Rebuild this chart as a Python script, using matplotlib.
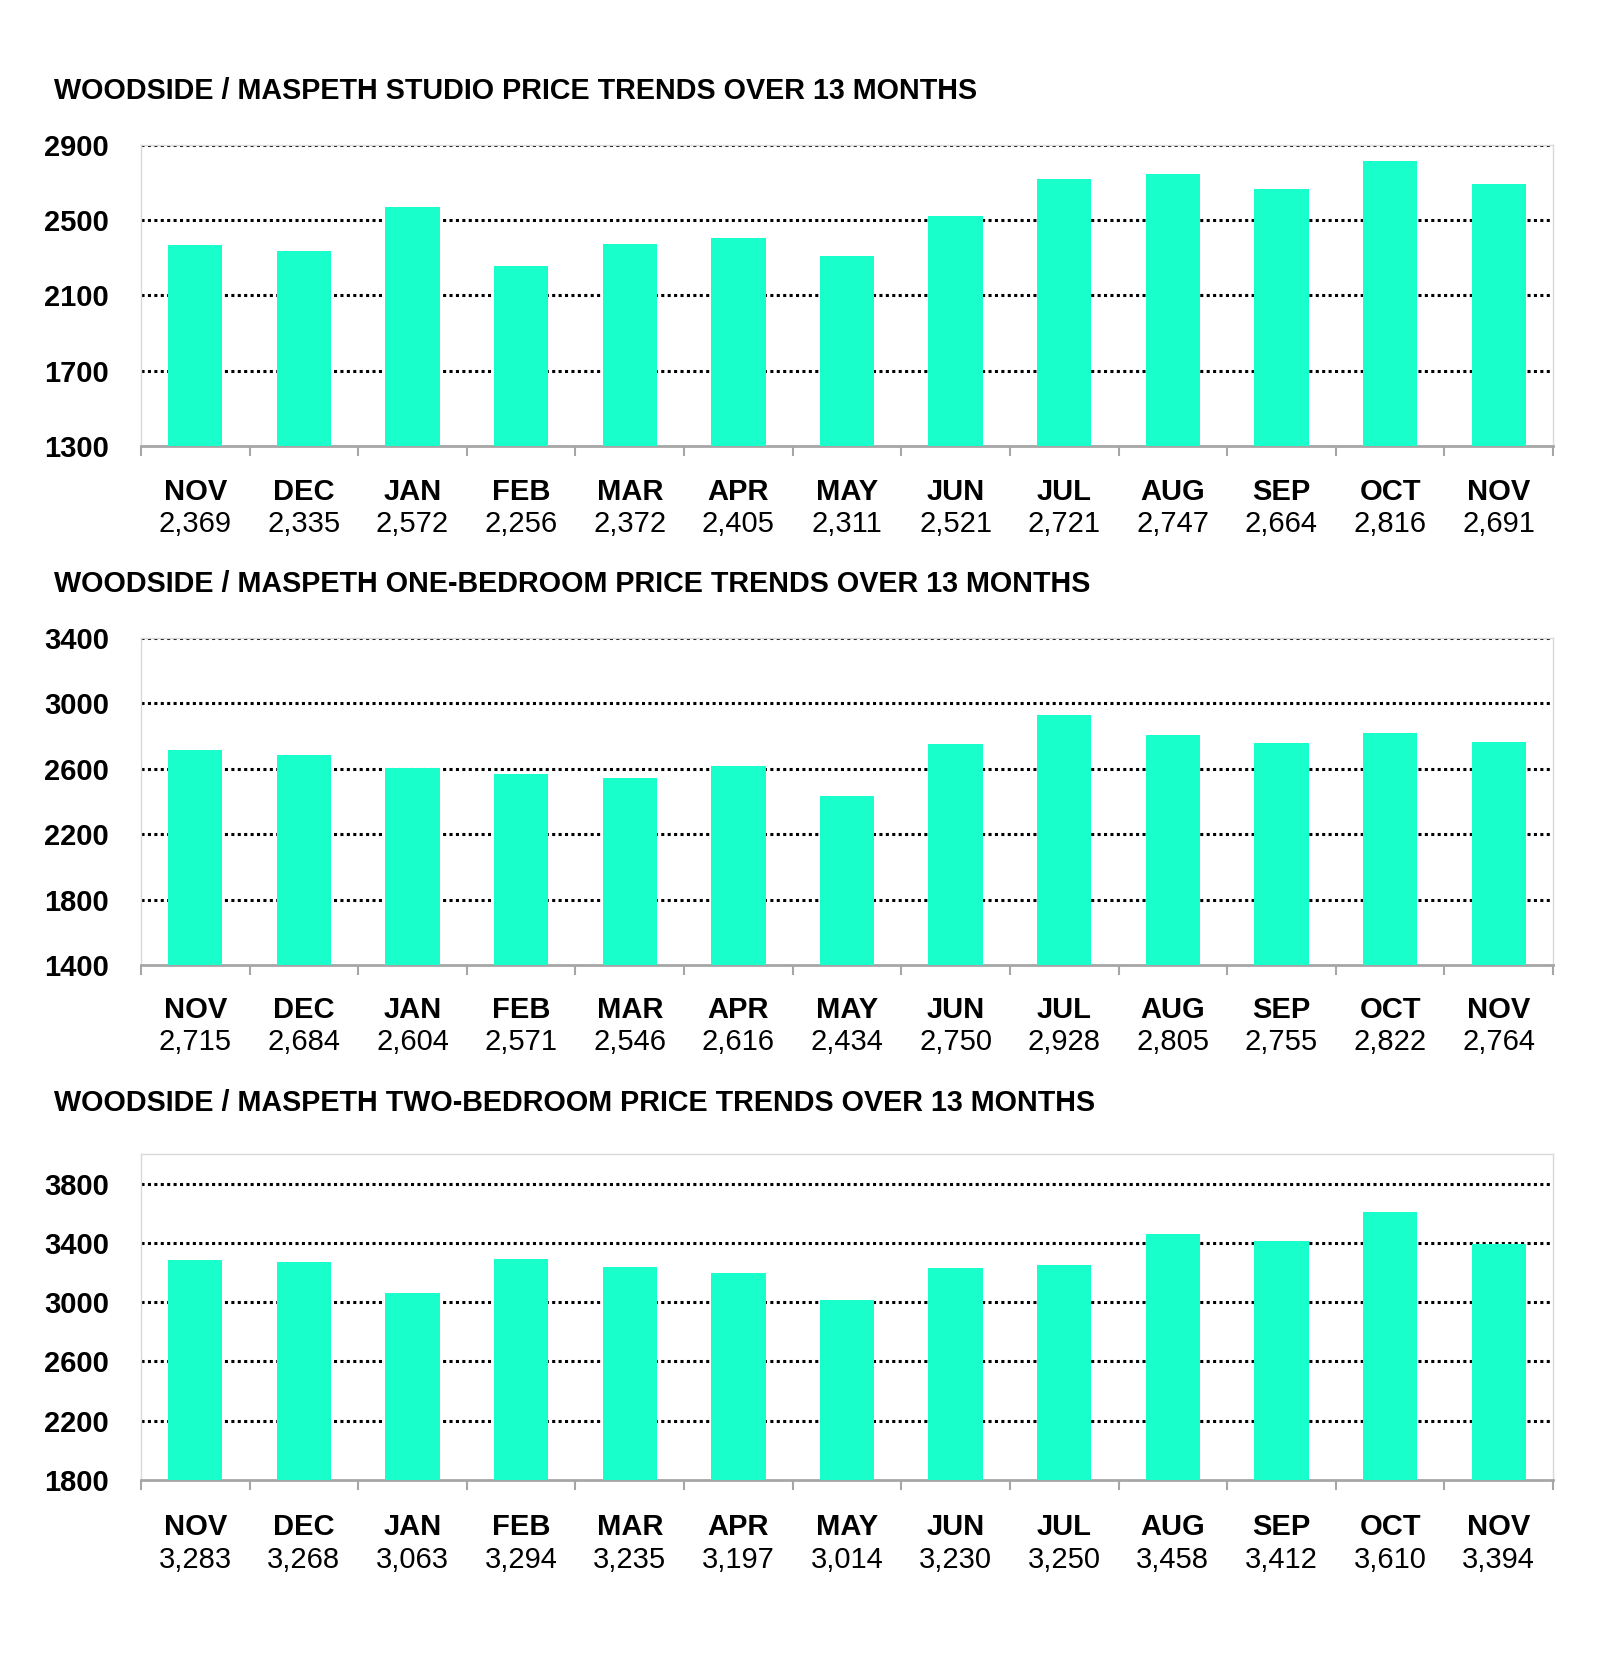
import matplotlib.pyplot as plt
import matplotlib.transforms as mtransforms

plt.rcParams['font.family'] = ['Liberation Sans', 'DejaVu Sans']

months = ['NOV', 'DEC', 'JAN', 'FEB', 'MAR', 'APR', 'MAY', 'JUN', 'JUL', 'AUG', 'SEP', 'OCT', 'NOV']

studio = [2369, 2335, 2572, 2256, 2372, 2405, 2311, 2521, 2721, 2747, 2664, 2816, 2691]
one_bed = [2715, 2684, 2604, 2571, 2546, 2616, 2434, 2750, 2928, 2805, 2755, 2822, 2764]
two_bed = [3283, 3268, 3063, 3294, 3235, 3197, 3014, 3230, 3250, 3458, 3412, 3610, 3394]

titles = [
    'WOODSIDE / MASPETH STUDIO PRICE TRENDS OVER 13 MONTHS',
    'WOODSIDE / MASPETH ONE-BEDROOM PRICE TRENDS OVER 13 MONTHS',
    'WOODSIDE / MASPETH TWO-BEDROOM PRICE TRENDS OVER 13 MONTHS',
]

# y range and ticks for each panel
limites = [(1300, 2900), (1400, 3400), (1800, 4000)]
marcas = [range(1300, 2901, 400), range(1400, 3401, 400), range(1800, 3801, 400)]

W, H = 1600, 1663
fig = plt.figure(figsize=(W / 100, H / 100), dpi=100)

# pixel boxes: (top, bottom) of each plot area, title y, label offsets
cajas = [(145, 446, 91, 46, 78), (638, 965, 584, 45, 77), (1154, 1480, 1103, 47, 80)]
left, right = 141, 1553

color_barra = '#19FFCC'

for k, datos in enumerate([studio, one_bed, two_bed]):
    top, bottom, ty, off1, off2 = cajas[k]
    ax = fig.add_axes([left / W, 1 - bottom / H, (right - left) / W, (bottom - top) / H])
    x = list(range(len(months)))
    ax.bar(x, datos, width=0.5, color=color_barra, zorder=3)
    ax.set_xlim(-0.5, len(months) - 0.5)
    ax.set_ylim(*limites[k])
    ax.set_yticks(list(marcas[k]))
    ax.set_yticklabels([str(v) for v in marcas[k]], fontsize=21, fontweight='bold')
    ax.tick_params(axis='y', length=0, pad=23)
    for v in marcas[k]:
        if v != limites[k][0]:
            ax.axhline(v, color='black', linestyle=(0, (1, 1.1)), linewidth=2.2, zorder=1)

    # category boundary ticks
    ax.set_xticks([i - 0.5 for i in range(len(months) + 1)])
    ax.set_xticklabels([])
    ax.tick_params(axis='x', direction='out', length=7, width=1.5, color='#a6a6a6')

    for lado in ['left', 'top', 'right']:
        ax.spines[lado].set_color('#d9d9d9')
        ax.spines[lado].set_linewidth(1)
    ax.spines['bottom'].set_color('#a6a6a6')
    ax.spines['bottom'].set_linewidth(2)

    trans = mtransforms.blended_transform_factory(ax.transData, ax.transAxes)
    for i, (m, v) in enumerate(zip(months, datos)):
        ax.annotate(m, xy=(i, 0), xycoords=trans, xytext=(0, -off1), textcoords='offset pixels',
                    ha='center', va='center', fontsize=21, fontweight='bold')
        ax.annotate(f'{v:,}', xy=(i, 0), xycoords=trans, xytext=(0, -off2), textcoords='offset pixels',
                    ha='center', va='center', fontsize=21)

    fig.text(54 / W, 1 - ty / H, titles[k], ha='left', va='center', fontsize=20.7, fontweight='bold')

fig.savefig('out.png', dpi=100, facecolor='white')
